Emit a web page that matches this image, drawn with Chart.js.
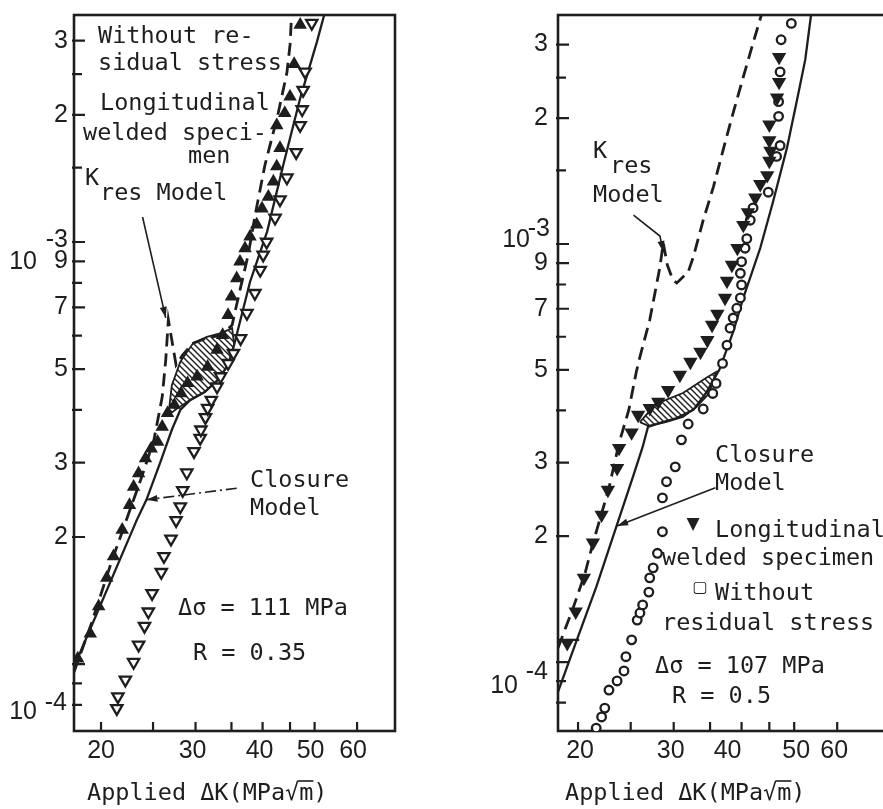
<!DOCTYPE html>
<html><head><meta charset="utf-8">
<script src="https://cdn.jsdelivr.net/npm/chart.js@4.4.1/dist/chart.umd.min.js"></script>
<style>
html,body{margin:0;padding:0;background:#fff;width:883px;height:809px;overflow:hidden;}
#wrap{position:relative;width:883px;height:809px;overflow:hidden;background:#fff;}
canvas{position:absolute;top:0;}
#cL{left:0;} #cR{left:440px;}
</style></head><body>
<div id="wrap"><canvas id="cL" width="440" height="809"></canvas><canvas id="cR" width="480" height="809"></canvas></div>
<script>
// ---------- Axis ticks ----------
const xTickValues = [20, 25, 30, 35, 40, 45, 50, 60];
const xTickLabels = ['20', '', '30', '', '40', '', '50', '60'];
const yTickValues = [8e-5, 9e-5, 1e-4, 2e-4, 3e-4, 4e-4, 5e-4, 6e-4, 7e-4, 8e-4, 9e-4, 1e-3, 1.5e-3, 2e-3, 2.5e-3, 3e-3];
const yTickLabels = ['', '', '', '2', '3', '', '5', '', '7', '', '9', '', '', '2', '', '3'];

// ---------- Left panel (delta sigma = 111 MPa, R = 0.35) ----------
const leftWeldedDK = [18.1,19.1,19.8,20.5,21.1,21.9,22.6,23.0,23.5,24.2,24.8,25.5,26.0,26.6,27.4,28.2,29.0,30.2,31.6,32.9,33.7,34.5,35.0,35.8,36.3,37.1,37.9,39.0,39.9,41.0,41.9,42.5,43.1,42.5,44.0,45.0,45.8,47.0];
const leftWeldedRate = [1.03e-4,1.18e-4,1.37e-4,1.60e-4,1.80e-4,2.08e-4,2.38e-4,2.63e-4,2.83e-4,3.07e-4,3.24e-4,3.36e-4,3.65e-4,3.93e-4,4.11e-4,4.38e-4,4.63e-4,4.80e-4,5.06e-4,5.55e-4,6.02e-4,6.71e-4,7.42e-4,8.20e-4,8.98e-4,9.66e-4,1.03e-3,1.10e-3,1.20e-3,1.28e-3,1.39e-3,1.51e-3,1.67e-3,1.89e-3,2.02e-3,2.21e-3,2.64e-3,3.27e-3];
const leftPlainDK = [21.4,21.5,22.2,23.0,23.5,24.1,24.5,24.9,25.9,26.2,27.0,27.6,28.1,28.4,28.9,29.8,30.6,30.7,31.3,31.6,32.1,32.9,33.4,34.5,35.3,36.4,37.4,38.7,39.6,40.1,40.7,42.2,43.1,44.4,46.2,47.0,47.4,47.6,48.0,49.4];
const leftPlainRate = [7.85e-5,8.37e-5,9.17e-5,1.01e-4,1.11e-4,1.23e-4,1.33e-4,1.47e-4,1.65e-4,1.80e-4,1.98e-4,2.19e-4,2.36e-4,2.58e-4,2.84e-4,3.19e-4,3.43e-4,3.59e-4,3.84e-4,4.04e-4,4.22e-4,4.54e-4,4.80e-4,5.16e-4,5.45e-4,5.91e-4,6.78e-4,7.56e-4,8.58e-4,9.32e-4,1.00e-3,1.14e-3,1.26e-3,1.42e-3,1.63e-3,1.89e-3,2.06e-3,2.29e-3,2.53e-3,3.30e-3];
const leftKresDK = [17.81,19.2,20.9,22.4,23.8,25.1,26.0,26.4,26.7,27.6,28.4,29.7,31.5,33.6,35.1,36.3,37.6,38.9,40.4,42.7,44.4,45.0,45.3];
const leftKresRate = [9.57e-5,1.25e-4,1.74e-4,2.23e-4,2.77e-4,3.40e-4,4.29e-4,5.25e-4,6.54e-4,5.11e-4,5.40e-4,5.76e-4,5.92e-4,6.02e-4,6.36e-4,7.69e-4,9.32e-4,1.19e-3,1.52e-3,2.00e-3,2.52e-3,2.93e-3,3.45e-3];
const leftClosureDK = [17.81,23.3,24.3,25.8,27.1,28.1,29.3,31.2,33.0,34.5,35.4,37.9,40.8,43.7,47.0,50.5,52.1];
const leftClosureRate = [9.84e-5,2.19e-4,2.45e-4,3.01e-4,3.59e-4,4.00e-4,4.22e-4,4.41e-4,4.71e-4,5.11e-4,5.70e-4,8.04e-4,1.06e-3,1.52e-3,2.19e-3,2.98e-3,3.45e-3];
const leftHatchDK = [26.7,27.1,28.1,29.7,31.5,33.6,35.1,35.4,34.5,33.0,31.2,29.3,27.8,26.7];
const leftHatchRate = [3.89e-4,4.58e-4,5.20e-4,5.76e-4,5.96e-4,6.09e-4,6.25e-4,5.70e-4,5.11e-4,4.71e-4,4.41e-4,4.22e-4,4.04e-4,3.89e-4];

// ---------- Right panel (delta sigma = 107 MPa, R = 0.5) ----------
const rightWeldedDK = [19.1,19.8,20.5,21.3,22.1,22.7,23.6,23.8,25.1,25.8,27.1,28.1,29.3,30.8,32.2,33.6,34.6,35.3,36.1,37.3,37.6,38.4,39.3,40.3,41.1,42.4,43.3,44.6,45.0,45.2,45.0,45.0,46.5,46.9,46.9];
const rightWeldedRate = [1.11e-4,1.32e-4,1.59e-4,1.93e-4,2.25e-4,2.58e-4,2.91e-4,3.25e-4,3.54e-4,3.90e-4,4.05e-4,4.19e-4,4.47e-4,4.86e-4,5.22e-4,5.52e-4,5.89e-4,6.40e-4,6.80e-4,7.43e-4,8.16e-4,8.91e-4,9.78e-4,1.11e-3,1.19e-3,1.29e-3,1.39e-3,1.46e-3,1.58e-3,1.67e-3,1.77e-3,1.93e-3,2.24e-3,2.44e-3,2.80e-3];
const rightPlainDK = [21.6,22.1,22.4,22.8,23.6,24.3,24.5,25.1,25.7,26.0,26.3,27.0,27.1,27.5,28.0,28.6,28.6,29.1,30.2,31.0,31.9,34.0,35.4,35.9,36.9,37.6,38.1,38.6,39.2,39.8,40.0,39.8,40.0,40.6,40.9,41.5,42.0,44.8,46.4,47.1,46.8,46.8,47.1,47.3,49.4];
const rightPlainRate = [6.95e-5,7.39e-5,7.76e-5,8.57e-5,9.01e-5,9.52e-5,1.03e-4,1.13e-4,1.26e-4,1.31e-4,1.37e-4,1.47e-4,1.59e-4,1.68e-4,1.82e-4,2.05e-4,2.47e-4,2.70e-4,2.93e-4,3.40e-4,3.71e-4,4.03e-4,4.39e-4,4.64e-4,5.18e-4,5.73e-4,6.29e-4,6.65e-4,7.02e-4,7.43e-4,7.98e-4,8.51e-4,9.07e-4,9.77e-4,1.03e-3,1.14e-3,1.22e-3,1.33e-3,1.62e-3,1.72e-3,2.02e-3,2.19e-3,2.58e-3,3.08e-3,3.37e-3];
const rightKresDK = [18.37,18.8,19.6,20.6,21.2,22.8,23.8,24.8,25.6,26.0,27.1,28.3,28.7,29.2,29.9,30.4,31.9,32.6,34.0,35.5,37.0,38.6,40.3,41.8,43.5];
const rightKresRate = [1.08e-4,1.17e-4,1.35e-4,1.63e-4,1.88e-4,2.61e-4,3.34e-4,4.01e-4,4.94e-4,5.37e-4,6.58e-4,8.81e-4,1.006e-3,8.91e-4,8.20e-4,8.07e-4,8.57e-4,9.31e-4,1.14e-3,1.37e-3,1.68e-3,2.06e-3,2.51e-3,2.96e-3,3.53e-3];
const rightClosureDK = [18.37,19.8,21.6,23.5,25.3,26.3,26.9,28.2,30.3,32.6,34.4,36.4,38.6,40.3,43.3,45.7,48.5,50.6,52.4,53.7];
const rightClosureRate = [8.48e-5,1.11e-4,1.51e-4,2.10e-4,2.80e-4,3.27e-4,3.65e-4,3.73e-4,3.83e-4,4.01e-4,4.40e-4,5.00e-4,6.16e-4,7.43e-4,9.78e-4,1.26e-3,1.70e-3,2.21e-3,2.76e-3,3.53e-3];
const rightStepDK = [18.37, 20.1];
const rightStepRate = [1.13e-4, 1.13e-4];
const rightHatchDK = [26.0,27.8,31.2,34.4,35.9,34.9,33.0,31.2,29.0,27.0,26.0];
const rightHatchRate = [3.75e-4,4.14e-4,4.40e-4,4.78e-4,4.94e-4,4.40e-4,4.07e-4,3.86e-4,3.75e-4,3.67e-4,3.75e-4];

// ---------- helpers ----------
const INK = '#1e1e1e';
const MONO = '"DejaVu Sans Mono", "Liberation Mono", monospace';
const NUM = '"Liberation Sans", Arial, sans-serif';
function pairs(xs, ys) { return xs.map((x, i) => ({ x: x, y: ys[i] })); }
function lineDS(xs, ys, opts) {
  return Object.assign({ data: pairs(xs, ys), showLine: true, pointRadius: 0, borderColor: INK,
    borderWidth: 2.3, fill: false, tension: 0, order: 5 }, opts);
}
function markDS(xs, ys, opts) {
  return Object.assign({ data: pairs(xs, ys), showLine: false, pointStyle: 'triangle', pointRadius: 5,
    pointBorderColor: INK, pointBackgroundColor: INK, pointBorderWidth: 1.5, order: 2 }, opts);
}
function hatch(canvasId) {
  const c = document.createElement('canvas'); c.width = 6; c.height = 6;
  const g = c.getContext('2d');
  g.strokeStyle = INK; g.lineWidth = 1.4;
  g.beginPath();
  g.moveTo(-1, -1); g.lineTo(7, 7);
  g.moveTo(-1, 5); g.lineTo(1, 7);
  g.moveTo(5, -1); g.lineTo(7, 1);
  g.stroke();
  return document.getElementById(canvasId).getContext('2d').createPattern(c, 'repeat');
}

function decor(spec) {
  return {
    id: 'decor' + spec.name,
    beforeDatasetsDraw(chart) {
      const { ctx, chartArea: a, scales: { x, y } } = chart;
      ctx.save();
      ctx.strokeStyle = INK; ctx.lineWidth = 2.6;
      ctx.strokeRect(a.left, a.top, a.right - a.left, a.bottom - a.top);
      ctx.lineWidth = 2.2;
      ctx.beginPath();
      xTickValues.forEach(v => { const p = x.getPixelForValue(v); ctx.moveTo(p, a.bottom); ctx.lineTo(p, a.bottom - 9); });
      yTickValues.forEach((v, i) => {
        const p = y.getPixelForValue(v);
        const major = yTickLabels[i] || v === 1e-3 || v === 1e-4;
        ctx.moveTo(a.left - 2, p); ctx.lineTo(a.left + (major ? 11 : 8), p);
      });
      ctx.stroke();
      ctx.restore();
    },
    afterDraw(chart) {
      const { ctx, chartArea: a, scales: { x, y } } = chart;
      const off = spec.offset;
      ctx.save();
      ctx.fillStyle = INK; ctx.strokeStyle = INK;
      // tick labels
      ctx.font = '25px ' + NUM;
      ctx.textBaseline = 'middle';
      ctx.textAlign = 'right';
      yTickValues.forEach((v, i) => {
        if (!yTickLabels[i]) return;
        ctx.fillText(yTickLabels[i], a.left - spec.yGap, y.getPixelForValue(v));
      });
      spec.expLabels.forEach(e => {
        const p = y.getPixelForValue(e.v);
        ctx.fillText('10', a.left + e.baseRight, p + e.baseDy);
        ctx.fillText(e.exp, a.left + e.expRight, p + e.expDy);
      });
      ctx.textAlign = 'center';
      xTickValues.forEach((v, i) => {
        if (!xTickLabels[i]) return;
        ctx.fillText(xTickLabels[i], x.getPixelForValue(v) + (spec.xLabelDx[i] || 0), 751);
      });
      // annotation texts
      ctx.textAlign = 'left'; ctx.textBaseline = 'alphabetic';
      ctx.font = '23.5px ' + MONO;
      spec.texts.forEach(t => ctx.fillText(t[0], t[1] - off, t[2]));
      // axis title with overline on m
      const title = 'Applied \u0394K(MPa\u221Am)';
      const tx = spec.title[0] - off, ty = spec.title[1];
      ctx.fillText(title, tx, ty);
      const w1 = ctx.measureText('Applied \u0394K(MPa\u221A').width;
      const wm = ctx.measureText('m').width;
      ctx.lineWidth = 1.6;
      ctx.beginPath(); ctx.moveTo(tx + w1 - 1, ty - 19); ctx.lineTo(tx + w1 + wm, ty - 19); ctx.stroke();
      // legend symbols
      ctx.textAlign = 'center'; ctx.textBaseline = 'middle';
      (spec.symbols || []).forEach(s => { ctx.font = s[3] + 'px "DejaVu Sans", sans-serif'; ctx.fillText(s[0], s[1] - off, s[2]); });
      // arrows
      spec.arrows.forEach(ar => {
        const pts = ar.pts.map(p => [x.getPixelForValue(p[0]), y.getPixelForValue(p[1])]);
        ctx.lineWidth = 1.6; ctx.setLineDash(ar.dash);
        ctx.beginPath(); ctx.moveTo(pts[0][0], pts[0][1]);
        for (let i = 1; i < pts.length; i++) ctx.lineTo(pts[i][0], pts[i][1]);
        ctx.stroke(); ctx.setLineDash([]);
        const [x1, y1] = pts[pts.length - 2], [x2, y2] = pts[pts.length - 1];
        const ang = Math.atan2(y2 - y1, x2 - x1), L = 11, W = 3.5;
        ctx.beginPath();
        ctx.moveTo(x2, y2);
        ctx.lineTo(x2 - L * Math.cos(ang) + W * Math.sin(ang), y2 - L * Math.sin(ang) - W * Math.cos(ang));
        ctx.lineTo(x2 - L * Math.cos(ang) - W * Math.sin(ang), y2 - L * Math.sin(ang) + W * Math.cos(ang));
        ctx.closePath(); ctx.fill();
      });
      ctx.restore();
    }
  };
}

function baseOptions(xmin, xmax, ymin, ymax, pad) {
  return {
    responsive: false, animation: false, devicePixelRatio: 1, events: [],
    layout: { padding: pad },
    plugins: { legend: { display: false }, tooltip: { enabled: false } },
    scales: {
      x: { type: 'logarithmic', min: xmin, max: xmax, display: false },
      y: { type: 'logarithmic', min: ymin, max: ymax, display: false }
    }
  };
}

// ---------- Left chart ----------
new Chart(document.getElementById('cL'), {
  type: 'scatter',
  data: { datasets: [
    markDS(leftWeldedDK, leftWeldedRate, { pointStyle: 'triangle', pointRadius: 6, pointBorderWidth: 1.8, order: 1 }),
    markDS(leftPlainDK, leftPlainRate, { pointStyle: 'triangle', pointRotation: 180, pointRadius: 6.5,
      pointBackgroundColor: '#fff', pointBorderWidth: 2.3, order: 3 }),
    lineDS(leftKresDK, leftKresRate, { borderDash: [13, 7], borderWidth: 2.8 }),
    lineDS(leftClosureDK, leftClosureRate, { borderWidth: 2.3 }),
    lineDS(leftHatchDK, leftHatchRate, { fill: 'shape', backgroundColor: hatch('cL'), borderWidth: 1.8, order: 6 })
  ] },
  options: baseOptions(17.81, 70.6, 6.94e-5, 3.45e-3, { left: 74, top: 15, right: 45, bottom: 78 }),
  plugins: [decor({
    name: 'L', offset: 0, yGap: 6,
    xLabelDx: [0, 0, -3, 0, -3, 0, -4, -4],
    expLabels: [
      { v: 1e-3, exp: '-3', expRight: -6, expDy: -2, baseRight: -37, baseDy: 20 },
      { v: 1e-4, exp: '-4', expRight: -7, expDy: 39, baseRight: -37, baseDy: 48 }
    ],
    texts: [
      ['Without re-', 98, 43], ['sidual stress', 98, 70], ['Longitudinal', 100, 110],
      ['welded speci-', 83, 140], ['men', 188, 163], ['K', 85, 185], ['res Model', 100, 200],
      ['Closure', 250, 487], ['Model', 250, 515],
      ['\u0394\u03C3 = 111 MPa', 178, 615], ['R = 0.35', 193, 660]
    ],
    title: [87, 800],
    arrows: [
      { pts: [[23.9, 1.146e-3], [26.4, 6.61e-4]], dash: [] },
      { pts: [[35.8, 2.61e-4], [24.3, 2.45e-4]], dash: [11, 4, 2, 4] }
    ]
  })]
});

// ---------- Right chart ----------
new Chart(document.getElementById('cR'), {
  type: 'scatter',
  data: { datasets: [
    markDS(rightWeldedDK, rightWeldedRate, { pointStyle: 'triangle', pointRotation: 180, pointRadius: 6.5, pointBorderWidth: 1.8, order: 1 }),
    markDS(rightPlainDK, rightPlainRate, { pointStyle: 'circle', pointRadius: 4.3,
      pointBackgroundColor: '#fff', pointBorderWidth: 2.3, order: 3 }),
    lineDS(rightKresDK, rightKresRate, { borderDash: [13, 7], borderWidth: 2.8 }),
    lineDS(rightClosureDK, rightClosureRate, { borderWidth: 2.3 }),
    lineDS(rightStepDK, rightStepRate, { borderWidth: 2.3 }),
    lineDS(rightHatchDK, rightHatchRate, { fill: 'shape', backgroundColor: hatch('cR'), borderWidth: 1.8, order: 6 })
  ] },
  options: baseOptions(18.37, 78.3, 6.84e-5, 3.53e-3, { left: 118, top: 15, right: 20, bottom: 78 }),
  plugins: [decor({
    name: 'R', offset: 440, yGap: 10,
    xLabelDx: [2, 0, -3, 0, -14, 0, 2, -3],
    expLabels: [
      { v: 1e-3, exp: '-3', expRight: -8, expDy: -15, baseRight: -28, baseDy: -4 },
      { v: 1e-4, exp: '-4', expRight: -10, expDy: 10, baseRight: -40, baseDy: 24 }
    ],
    texts: [
      ['K', 593, 158], ['res', 610, 173], ['Model', 593, 202],
      ['Closure', 715, 462], ['Model', 715, 490],
      ['Longitudinal', 715, 537], ['welded specimen', 662, 565],
      ['Without', 715, 600], ['residual stress', 662, 630],
      ['\u0394\u03C3 = 107 MPa', 655, 673], ['R = 0.5', 672, 703]
    ],
    symbols: [['\u25BC', 693, 525, 17], ['\u25A2', 700, 588, 16]],
    title: [565, 800],
    arrows: [
      { pts: [[25.3, 1.173e-3], [28.3, 1.045e-3], [28.7, 9.57e-4]], dash: [] },
      { pts: [[35.8, 2.61e-4], [23.6, 2.115e-4]], dash: [] }
    ]
  })]
});
</script>
</body></html>
